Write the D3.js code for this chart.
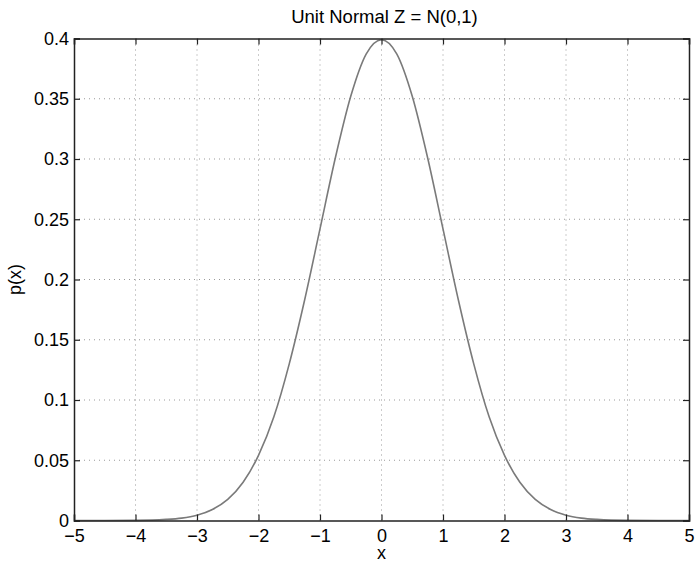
<!DOCTYPE html>
<html>
<head>
<meta charset="utf-8">
<script src="https://cdn.jsdelivr.net/npm/d3@7"></script>
<style>
  body { margin: 0; background: #fff; }
  text { font-family: "Liberation Sans", Arial, sans-serif; fill: #000; }
</style>
</head>
<body>
<script>
let width = 696;
let height = 563;

// values
let xs = [-5, -4.5, -4, -3.5, -3.25, -3, -2.75, -2.5, -2.25, -2, -1.75, -1.5, -1.25, -1, -0.75, -0.5, -0.25, 0,
          0.25, 0.5, 0.75, 1, 1.25, 1.5, 1.75, 2, 2.25, 2.5, 2.75, 3, 3.25, 3.5, 4, 4.5, 5];
let ps = [0, 0.00002, 0.0001, 0.0009, 0.002, 0.0044, 0.0091, 0.0175, 0.0317, 0.054, 0.086, 0.13, 0.183, 0.242, 0.301, 0.352, 0.387, 0.399,
          0.387, 0.352, 0.301, 0.242, 0.183, 0.13, 0.086, 0.054, 0.0317, 0.0175, 0.0091, 0.0044, 0.002, 0.0009, 0.0001, 0.00002, 0];
let xTicks = [-5, -4, -3, -2, -1, 0, 1, 2, 3, 4, 5];
let yTicks = [0, 0.05, 0.1, 0.15, 0.2, 0.25, 0.3, 0.35, 0.4];

let margin = {left: 74, right: 7, top: 38.5, bottom: 42.5};

let svg = d3.select("body").append("svg").attr("width", width).attr("height", height);

let x = d3.scaleLinear().domain([-5, 5]).range([margin.left, width - margin.right]);
let y = d3.scaleLinear().domain([0, 0.4]).range([height - margin.bottom, margin.top]);

let fmtX = d3.format("d");
let fmtY = (v) => v == 0 ? "0" : d3.format(".2~f")(v);

// grid
let grid = svg.append("g").attr("stroke", "#999").attr("stroke-width", 1).attr("stroke-dasharray", "1,4");
grid.selectAll(".gx").data(xTicks.slice(1, -1)).enter().append("line")
  .attr("x1", (d) => x(d)).attr("x2", (d) => x(d)).attr("y1", y(0)).attr("y2", y(0.4));
grid.selectAll(".gy").data(yTicks.slice(1, -1)).enter().append("line")
  .attr("y1", (d) => y(d)).attr("y2", (d) => y(d)).attr("x1", x(-5)).attr("x2", x(5));

// curve
let line = d3.line().x((d, i) => x(xs[i])).y((d) => y(d)).curve(d3.curveMonotoneX);
svg.append("path").datum(ps).attr("fill", "none").attr("stroke", "#7a7a7a").attr("stroke-width", 1.6).attr("d", line);

// axes, ticks inside on all four sides
let tl = 6;
let axBottom = svg.append("g").attr("transform", "translate(0," + y(0) + ")")
  .call(d3.axisBottom(x).tickValues(xTicks).tickSize(-tl).tickPadding(9).tickFormat((d) => fmtX(d).replace("-", "\u2212")));
let axTop = svg.append("g").attr("transform", "translate(0," + y(0.4) + ")")
  .call(d3.axisTop(x).tickValues(xTicks).tickSize(-tl).tickFormat(""));
let axLeft = svg.append("g").attr("transform", "translate(" + x(-5) + ",0)")
  .call(d3.axisLeft(y).tickValues(yTicks).tickSize(-tl).tickPadding(5).tickFormat(fmtY));
let axRight = svg.append("g").attr("transform", "translate(" + x(5) + ",0)")
  .call(d3.axisRight(y).tickValues(yTicks).tickSize(-tl).tickFormat(""));

[axBottom, axTop, axLeft, axRight].forEach((a) => {
  a.select(".domain").attr("stroke", "#222").attr("stroke-width", 1.5);
  a.selectAll(".tick line").attr("stroke", "#222").attr("stroke-width", 1.2);
  a.selectAll("text").attr("font-size", 18).attr("font-family", "Liberation Sans, Arial, sans-serif").attr("fill", "#000");
});

svg.append("text").attr("x", (x(-5) + x(5)) / 2 + 3).attr("y", 23).attr("text-anchor", "middle")
  .attr("font-size", 18.5).text("Unit Normal Z = N(0,1)");
svg.append("text").attr("x", (x(-5) + x(5)) / 2).attr("y", 559).attr("text-anchor", "middle")
  .attr("font-size", 18).text("x");
svg.append("text").attr("transform", "translate(21," + (y(0.2)) + ") rotate(-90)").attr("text-anchor", "middle")
  .attr("font-size", 18).text("p(x)");
</script>
</body>
</html>
